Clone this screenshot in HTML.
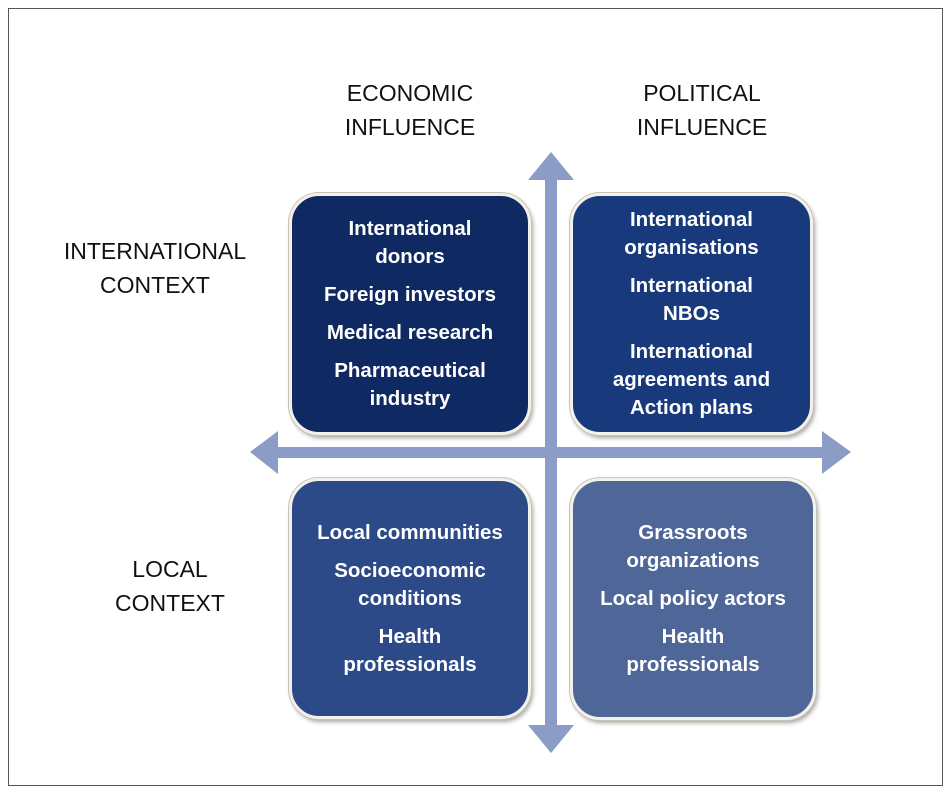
<!DOCTYPE html>
<html><head><style>
body{margin:0;background:#fff;width:950px;height:793px;position:relative;overflow:hidden;font-family:"Liberation Sans",sans-serif}
.frame{position:absolute;left:8px;top:8px;width:933px;height:776px;border:1px solid #555}
.lbl{position:absolute;font-size:23px;color:#111;text-align:center;line-height:34px}
.box{position:absolute;border-radius:30px;border:3px solid #f4f1ea;box-shadow:0 0 0 1px #c9c3b5,2px 3px 4px rgba(0,0,0,.35);color:#fff;font-weight:bold;font-size:20.5px;line-height:28px;text-align:center;display:flex;flex-direction:column;justify-content:center}
.box p{margin:5px 0}
</style></head><body>
<div class="frame"></div>
<svg width="950" height="793" style="position:absolute;left:0;top:0">
<g fill="#8b9cc6">
<rect x="545" y="175" width="12" height="555"/>
<polygon points="551,152 528,180 574,180"/>
<polygon points="551,753 528,725 574,725"/>
<rect x="272" y="447" width="556" height="11"/>
<polygon points="250,452 278,431 278,474"/>
<polygon points="851,452 822,431 822,474"/>
</g>
</svg>
<div class="lbl" style="left:310px;top:76px;width:200px">ECONOMIC<br>INFLUENCE</div>
<div class="lbl" style="left:602px;top:76px;width:200px">POLITICAL<br>INFLUENCE</div>
<div class="lbl" style="left:40px;top:234px;width:230px">INTERNATIONAL<br>CONTEXT</div>
<div class="lbl" style="left:70px;top:552px;width:200px">LOCAL<br>CONTEXT</div>
<div class="box" style="left:289px;top:193px;width:236px;height:236px;background:#0f2a62">
<p>International<br>donors</p><p>Foreign investors</p><p>Medical research</p><p>Pharmaceutical<br>industry</p></div>
<div class="box" style="left:570px;top:193px;width:237px;height:236px;background:#183a7c">
<p>International<br>organisations</p><p>International<br>NBOs</p><p>International<br>agreements and<br>Action plans</p></div>
<div class="box" style="left:289px;top:478px;width:236px;height:235px;background:#2d4a88">
<p>Local communities</p><p>Socioeconomic<br>conditions</p><p>Health<br>professionals</p></div>
<div class="box" style="left:570px;top:478px;width:240px;height:236px;background:#4f6699">
<p>Grassroots<br>organizations</p><p>Local policy actors</p><p>Health<br>professionals</p></div>
</body></html>
